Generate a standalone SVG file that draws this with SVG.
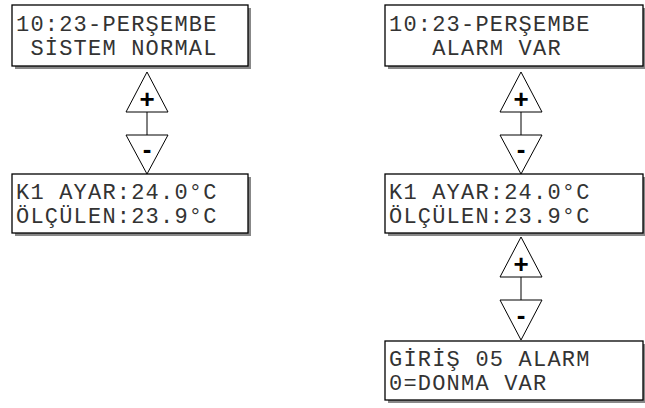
<svg xmlns="http://www.w3.org/2000/svg" width="645" height="408" viewBox="0 0 645 408">
<style>
.box{fill:#fff;stroke:#000;stroke-width:1.3}
.sh{fill:#888}
.t{font-family:"Liberation Mono","Courier New",monospace;font-size:22px;letter-spacing:1.2px;fill:#333;white-space:pre}
.tri{fill:#fff;stroke:#000;stroke-width:1}
.sym{font-family:"Liberation Sans",Arial,sans-serif;font-size:26px;font-weight:bold;fill:#000;text-anchor:middle}
.ln{stroke:#000;stroke-width:1}
</style>
<g id="connectors">
<line class="ln" x1="147" y1="112" x2="147" y2="135"/>
<line class="ln" x1="521" y1="112" x2="521" y2="135"/>
<line class="ln" x1="521" y1="277" x2="521" y2="300"/>
</g>
<g id="box-l1"><rect class="sh" x="15" y="8" width="236" height="61"/><rect class="box" x="12" y="5" width="236" height="61"/><text class="t" x="16" y="31" xml:space="preserve">10:23-PERŞEMBE</text><text class="t" x="16" y="55" xml:space="preserve"> SİSTEM NORMAL</text></g>
<g id="btn-l1"><polygon class="tri" points="147,72 126,112 168,112"/><text class="sym" x="147" y="108">+</text><polygon class="tri" points="126,135 168,135 147,174"/><text class="sym" x="147" y="158">-</text></g>
<g id="box-l2"><rect class="sh" x="15" y="177" width="236" height="59"/><rect class="box" x="12" y="174" width="236" height="59"/><text class="t" x="16" y="199" xml:space="preserve">K1 AYAR:24.0°C</text><text class="t" x="16" y="223" xml:space="preserve">ÖLÇÜLEN:23.9°C</text></g>
<g id="box-r1"><rect class="sh" x="388" y="8" width="258" height="61"/><rect class="box" x="385" y="5" width="258" height="61"/><text class="t" x="389" y="31" xml:space="preserve">10:23-PERŞEMBE</text><text class="t" x="389" y="55" xml:space="preserve">   ALARM VAR</text></g>
<g id="btn-r1"><polygon class="tri" points="521,72 500,112 542,112"/><text class="sym" x="521" y="108">+</text><polygon class="tri" points="500,135 542,135 521,174"/><text class="sym" x="521" y="158">-</text></g>
<g id="box-r2"><rect class="sh" x="388" y="177" width="258" height="59"/><rect class="box" x="385" y="174" width="258" height="59"/><text class="t" x="389" y="199" xml:space="preserve">K1 AYAR:24.0°C</text><text class="t" x="389" y="223" xml:space="preserve">ÖLÇÜLEN:23.9°C</text></g>
<g id="btn-r2"><polygon class="tri" points="521,237 500,277 542,277"/><text class="sym" x="521" y="273">+</text><polygon class="tri" points="500,300 542,300 521,340"/><text class="sym" x="521" y="324">-</text></g>
<g id="box-r3"><rect class="sh" x="388" y="344" width="258" height="59"/><rect class="box" x="385" y="341" width="258" height="59"/><text class="t" x="389" y="366" xml:space="preserve">GİRİŞ 05 ALARM</text><text class="t" x="389" y="390" xml:space="preserve">0=DONMA VAR</text></g>
</svg>
